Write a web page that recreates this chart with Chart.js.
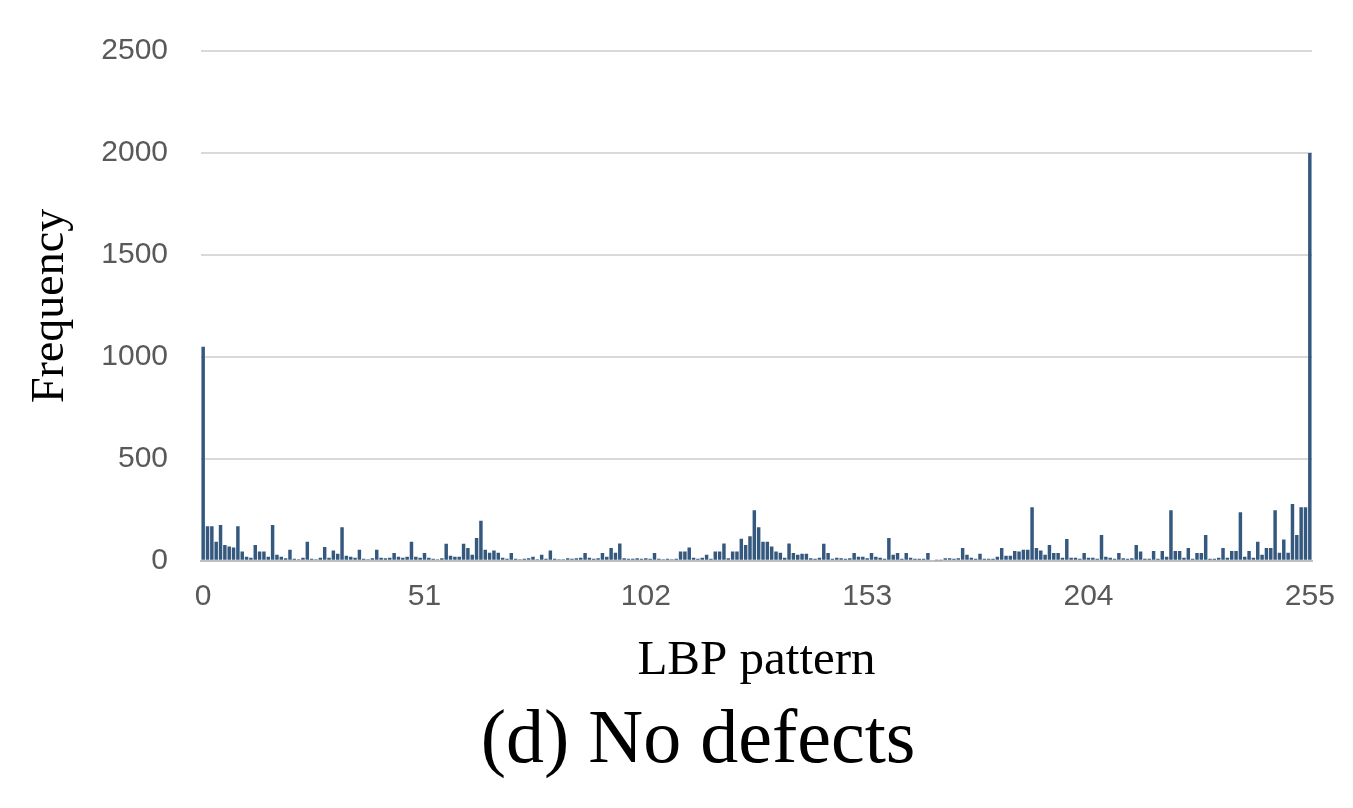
<!DOCTYPE html>
<html>
<head>
<meta charset="utf-8">
<script src="https://cdn.jsdelivr.net/npm/chart.js@4/dist/chart.umd.min.js"></script>
<style>
    html, body { margin: 0; padding: 0; background: #ffffff; }
    #wrap { width: 1353px; height: 808px; }
</style>
</head>
<body>
<div id="wrap"><canvas id="chart" width="1353" height="808"></canvas></div>
<script>
// LBP pattern histogram (rows of 16)
const patternValues = [
    1050, 170, 170, 94, 175, 78, 70, 65, 170, 45, 20, 15, 78, 45, 45, 20,
    175, 30, 20, 12, 54, 10, 8, 15, 94, 10, 8, 15, 68, 15, 50, 35,
    165, 25, 20, 15, 54, 10, 8, 12, 54, 15, 12, 15, 38, 20, 15, 20,
    94, 20, 15, 38, 15, 10, 8, 12, 83, 25, 20, 20, 83, 63, 30, 112,
    196, 54, 40, 50, 40, 15, 10, 38, 10, 8, 10, 12, 20, 8, 30, 10,
    50, 10, 8, 8, 12, 10, 12, 15, 38, 15, 10, 12, 38, 20, 63, 40,
    85, 12, 10, 10, 12, 10, 12, 10, 38, 10, 8, 10, 8, 10, 45, 45,
    65, 15, 10, 15, 30, 10, 45, 45, 85, 12, 45, 45, 108, 78, 120, 248,
    165, 94, 94, 70, 45, 40, 15, 85, 38, 30, 35, 35, 12, 10, 15, 84,
    38, 10, 15, 12, 10, 12, 38, 20, 20, 12, 38, 20, 15, 10, 112, 30,
    38, 10, 38, 15, 10, 10, 10, 38, 5, 3, 3, 12, 12, 10, 12, 63,
    30, 15, 10, 35, 10, 10, 10, 20, 63, 25, 25, 48, 45, 54, 54, 263,
    63, 50, 30, 78, 38, 38, 15, 107, 15, 15, 10, 38, 15, 15, 10, 127,
    20, 15, 10, 38, 12, 10, 12, 78, 45, 10, 10, 48, 10, 48, 20, 248,
    48, 48, 15, 63, 10, 38, 38, 127, 10, 10, 15, 63, 15, 48, 48, 238,
    20, 48, 15, 94, 30, 63, 63, 248, 40, 104, 40, 278, 127, 263, 263, 2000
];
const patternLabels = patternValues.map((v, i) => String(i));
const shownTicks = ['0', '51', '102', '153', '204', '255'];

const ctx = document.getElementById('chart').getContext('2d');

new Chart(ctx, {
    type: 'bar',
    data: {
        labels: patternLabels,
        datasets: [{
            data: patternValues,
            backgroundColor: '#34587e',
            borderWidth: 0,
            barPercentage: 0.8,
            categoryPercentage: 1,
        }],
    },
    options: {
        responsive: false,
        animation: false,
        layout: {
            // left padding shifts the caption centre to match the original
            padding: { top: 48, right: 41, bottom: 0, left: 84 },
        },
        plugins: {
            legend: { display: false },
            tooltip: { enabled: false },
            title: {
                display: true,
                position: 'bottom',
                text: '(d) No defects',
                color: '#000000',
                font: { family: 'Liberation Serif', size: 76, weight: 'normal' },
                padding: { top: 2, bottom: 20 },
            },
        },
        scales: {
            x: {
                grid: { display: false, drawTicks: false },
                border: { display: true, color: '#bfbfbf', width: 2 },
                ticks: {
                    autoSkip: false,
                    maxRotation: 0,
                    padding: 18,
                    color: '#595959',
                    font: { family: 'Liberation Sans', size: 30 },
                    callback: function (value) {
                        const label = this.getLabelForValue(value);
                        return shownTicks.includes(label) ? label : '';
                    },
                },
                title: {
                    display: true,
                    text: 'LBP pattern',
                    color: '#000000',
                    font: { family: 'Liberation Serif', size: 49 },
                    padding: { top: 0, bottom: 4 },
                },
                afterFit: (scale) => { scale.height = 134; },
            },
            y: {
                min: 0,
                max: 2500,
                grid: { color: '#d9d9d9', lineWidth: 2, drawTicks: false },
                border: { display: false },
                ticks: {
                    stepSize: 500,
                    padding: 33,
                    color: '#595959',
                    font: { family: 'Liberation Sans', size: 30 },
                    callback: (value) => String(value),
                },
                title: {
                    display: true,
                    text: 'Frequency',
                    color: '#000000',
                    font: { family: 'Liberation Serif', size: 46 },
                    padding: { top: -61, bottom: 0 },
                },
                afterFit: (scale) => { scale.width = 117; },
            },
        },
    },
});
</script>
</body>
</html>
